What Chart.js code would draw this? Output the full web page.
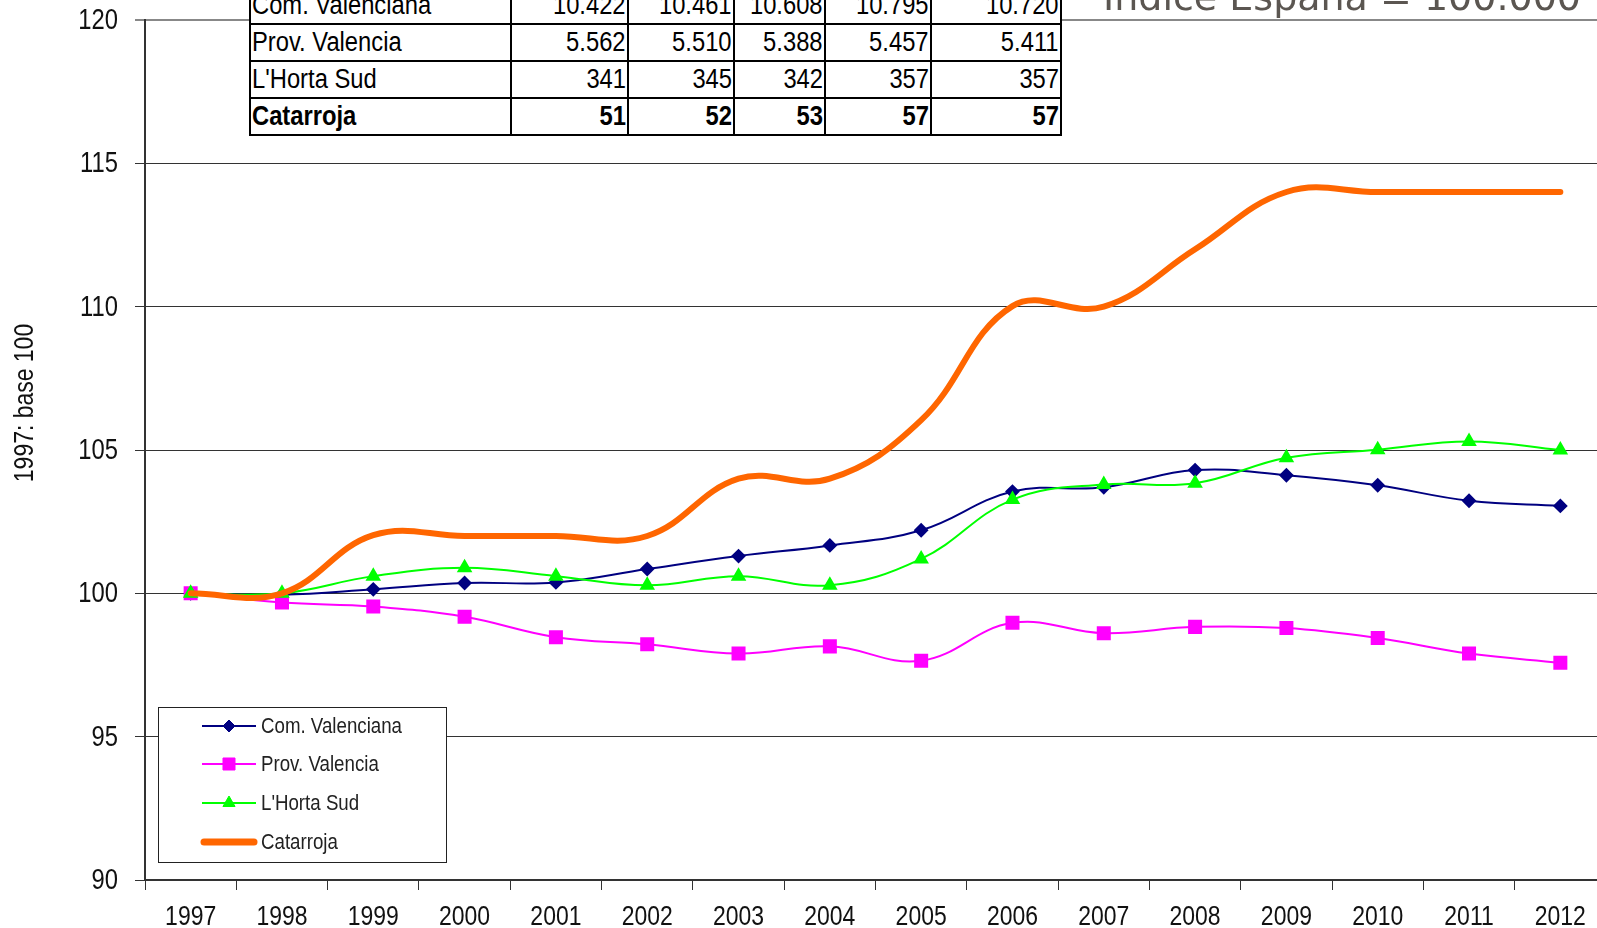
<!DOCTYPE html>
<html>
<head>
<meta charset="utf-8">
<script src="https://cdn.jsdelivr.net/npm/chart.js@4.4.1/dist/chart.umd.min.js"></script>
<style>
  body { margin: 0; overflow: hidden; background: #fff; width: 1597px; height: 928px; position: relative; }
  #chartBox { position: absolute; left: 0; top: 0; }
  #title { position: absolute; left: 1103px; top: -25px; font-family: "DejaVu Sans", sans-serif; font-size: 38px; color: #5b5651; white-space: nowrap; }
  #dataTable { position: absolute; left: 249px; top: -14px; border-collapse: collapse; background: #fff;
               font-family: "Liberation Sans", Arial, sans-serif; font-size: 27px; color: #000; }
  #dataTable td { border: 2px solid #000; height: 35px; padding: 0 1px; line-height: 35px; overflow: hidden; white-space: nowrap; }
  #dataTable td span { display: inline-block; transform: scaleX(0.88); transform-origin: left center; }
  #dataTable td.num { text-align: right; }
  #dataTable td.num span { transform-origin: right center; }
  #dataTable tr.bold td { font-weight: bold; }
</style>
</head>
<body>
<div id="chartBox"><canvas id="indexChart" width="1620" height="928"></canvas></div>
<table id="dataTable"></table>
<div id="title">Índice España = 100.000</div>
<script>
// Years on the x axis
var years = ['1997', '1998', '1999', '2000', '2001', '2002', '2003', '2004',
             '2005', '2006', '2007', '2008', '2009', '2010', '2011', '2012'];

// Series, 1997 = 100
var comValenciana = [100, 99.95, 100.14, 100.36, 100.38, 100.85, 101.3, 101.67,
                     102.2, 103.55, 103.7, 104.3, 104.12, 103.77, 103.23, 103.05];
var provValencia = [100, 99.68, 99.54, 99.18, 98.47, 98.22, 97.9, 98.15,
                    97.65, 98.97, 98.61, 98.83, 98.79, 98.44, 97.9, 97.58];
var hortaSud = [100, 100, 100.6, 100.89, 100.6, 100.28, 100.6, 100.28,
                101.2, 103.27, 103.8, 103.84, 104.73, 105.01, 105.3, 105.0];
var catarroja = [100, 100, 102.03, 102, 102, 102, 104, 104,
                 106.04, 110.02, 110, 112, 114, 114, 114, 114];

// Y axis ticks
var yTicks = [90, 95, 100, 105, 110, 115, 120];
var yTitle = '1997: base 100';

// Table on top of the chart (header row is cut off in the picture)
var tableLabels = ['Com. Valenciana', 'Prov. Valencia', "L'Horta Sud", 'Catarroja'];
var tableValues = [
    ['10.422', '10.461', '10.608', '10.795', '10.720'],
    ['5.562', '5.510', '5.388', '5.457', '5.411'],
    ['341', '345', '342', '357', '357'],
    ['51', '52', '53', '57', '57']
];
var tableColWidths = [261, 117, 106, 91, 106, 130];

// Build the table
var table = document.getElementById('dataTable');
tableLabels.forEach(function (label, r) {
    var tr = document.createElement('tr');
    if (r === tableLabels.length - 1) tr.className = 'bold';
    var cells = [label].concat(tableValues[r]);
    cells.forEach(function (text, c) {
        var td = document.createElement('td');
        if (c > 0) td.className = 'num';
        td.style.width = (tableColWidths[c] - 4) + 'px';
        td.style.maxWidth = (tableColWidths[c] - 4) + 'px';
        var span = document.createElement('span');
        span.textContent = text;
        td.appendChild(span);
        tr.appendChild(td);
    });
    table.appendChild(tr);
});

var sansFont = '"Liberation Sans", Arial, sans-serif';

// Arial Narrow look: Liberation Sans squeezed horizontally
function drawNarrow(ctx, text, x, y, align, size, squeeze) {
    ctx.save();
    ctx.translate(x, y);
    ctx.scale(squeeze, 1);
    ctx.font = size + 'px ' + sansFont;
    ctx.textAlign = align;
    ctx.textBaseline = 'middle';
    ctx.fillText(text, 0, 0);
    ctx.restore();
}

// Tick labels and axis title in a narrow face
var narrowLabels = {
    id: 'narrowLabels',
    afterDraw: function (chart) {
        var ctx = chart.ctx;
        var xs = chart.scales.x, ys = chart.scales.y;
        ctx.save();
        ctx.fillStyle = '#111';
        years.forEach(function (label, i) {
            drawNarrow(ctx, label, xs.getPixelForTick(i), 917, 'center', 28, 0.82);
        });
        yTicks.forEach(function (v) {
            drawNarrow(ctx, String(v), 118, ys.getPixelForValue(v) + 1, 'right', 29, 0.82);
        });
        ctx.translate(25, 403);
        ctx.rotate(-Math.PI / 2);
        drawNarrow(ctx, yTitle, 0, 0, 'center', 28, 0.82);
        ctx.restore();
    }
};

// Legend drawn inside the plot, bottom left
var legendBox = {
    id: 'legendBox',
    afterDatasetsDraw: function (chart) {
        var ctx = chart.ctx;
        var x0 = 158, y0 = 707, w = 288, h = 155;
        ctx.save();
        ctx.fillStyle = '#fff';
        ctx.fillRect(x0, y0, w, h);
        ctx.strokeStyle = '#222';
        ctx.lineWidth = 1;
        ctx.strokeRect(x0 + 0.5, y0 + 0.5, w, h);
        var rowsY = [726, 764, 803, 842];
        chart.data.datasets.forEach(function (ds, i) {
            var y = rowsY[i];
            ctx.strokeStyle = ds.borderColor;
            ctx.lineWidth = ds.pointRadius ? ds.borderWidth : 7;
            ctx.lineCap = ds.pointRadius ? 'butt' : 'round';
            ctx.beginPath();
            ctx.moveTo(ds.pointRadius ? 202 : 204, y);
            ctx.lineTo(ds.pointRadius ? 256 : 254, y);
            ctx.stroke();
            if (ds.pointRadius) {
                ctx.fillStyle = ds.pointBackgroundColor;
                ctx.strokeStyle = ds.pointBorderColor;
                ctx.lineWidth = 1;
                Chart.helpers.drawPoint(ctx, {
                    pointStyle: ds.pointStyle,
                    radius: ds.pointRadius,
                    rotation: 0,
                    borderWidth: 1
                }, 229, y);
            }
            ctx.fillStyle = '#222';
            drawNarrow(ctx, ds.label, 261, y + 1, 'left', 22, 0.85);
        });
        ctx.restore();
    }
};

var ctx = document.getElementById('indexChart').getContext('2d');
new Chart(ctx, {
    type: 'line',
    data: {
        labels: years,
        datasets: [{
            label: 'Com. Valenciana',
            data: comValenciana,
            borderColor: '#000080',
            backgroundColor: '#000080',
            pointBackgroundColor: '#000080',
            pointBorderColor: '#000080',
            borderWidth: 2,
            pointStyle: 'rectRot',
            pointRadius: 6,
            order: 3
        }, {
            label: 'Prov. Valencia',
            data: provValencia,
            borderColor: '#ff00ff',
            backgroundColor: '#ff00ff',
            pointBackgroundColor: '#ff00ff',
            pointBorderColor: '#ff00ff',
            borderWidth: 2,
            pointStyle: 'rect',
            pointRadius: 8.5,
            order: 2
        }, {
            label: "L'Horta Sud",
            data: hortaSud,
            borderColor: '#00ff00',
            backgroundColor: '#00ff00',
            pointBackgroundColor: '#00ff00',
            pointBorderColor: '#00ff00',
            borderWidth: 2,
            pointStyle: 'triangle',
            pointRadius: 7,
            order: 1
        }, {
            label: 'Catarroja',
            data: catarroja,
            borderColor: '#ff6600',
            backgroundColor: '#ff6600',
            borderWidth: 6,
            pointRadius: 0,
            borderCapStyle: 'round',
            order: 0
        }]
    },
    options: {
        responsive: false,
        animation: false,
        layout: { padding: { left: 45, right: 14, top: 20, bottom: 0 } },
        elements: { line: { tension: 0.4 }, point: { borderWidth: 1 } },
        scales: {
            x: {
                offset: true,
                grid: {
                    offset: true,
                    drawOnChartArea: false,
                    drawTicks: true,
                    tickLength: 10,
                    color: '#333',
                    lineWidth: 1
                },
                border: { color: '#333', width: 2 },
                ticks: { display: false },
                afterFit: function (s) { s.height = 48; }
            },
            y: {
                min: 90,
                max: 120,
                afterBuildTicks: function (s) { s.ticks = yTicks.map(function (v) { return { value: v }; }); },
                grid: {
                    drawTicks: true,
                    tickLength: 10,
                    color: function (c) { return c.tick && c.tick.value === 120 ? '#888' : '#333'; },
                    lineWidth: function (c) { return c.tick && c.tick.value === 120 ? 2 : 1; }
                },
                border: { color: '#333', width: 2 },
                ticks: { display: false },
                afterFit: function (s) { s.width = 100; }
            }
        },
        plugins: {
            legend: { display: false },
            tooltip: { enabled: false }
        }
    },
    plugins: [legendBox, narrowLabels]
});
</script>
</body>
</html>
